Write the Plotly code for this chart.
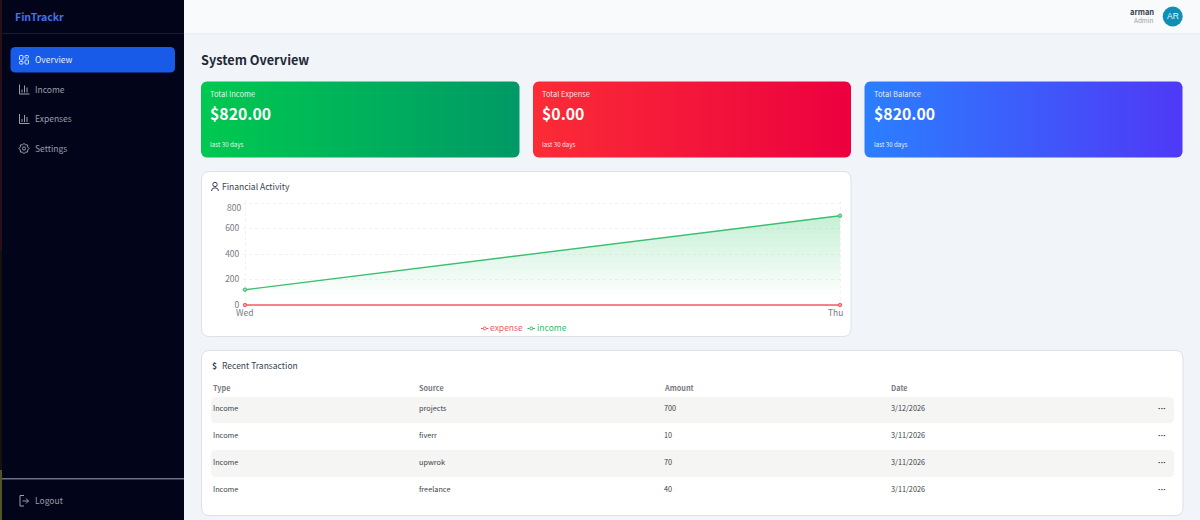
import math
import numpy as np
import plotly.graph_objects as go

W, H = 1200, 520
FONT = "Noto Sans CJK SC"

# chart values
days = ["Wed", "Thu"]
income = [120, 700]
expense = [0, 0]
y_ticks = [0, 200, 400, 600, 800]
y_labels = ["0", "200", "400", "600", ""]

# cards
card_titles = ["Total Income", "Total Expense", "Total Balance"]
card_values = ["$820.00", "$0.00", "$820.00"]

# table
headers = ["Type", "Source", "Amount", "Date"]
tx_type = ["Income", "Income", "Income", "Income"]
tx_source = ["projects", "fiverr", "upwrok", "freelance"]
tx_amount = ["700", "10", "70", "40"]
tx_date = ["3/12/2026", "3/11/2026", "3/11/2026", "3/11/2026"]

# sidebar
nav_items = ["Overview", "Income", "Expenses", "Settings"]

shapes = []
notes = []


def px(x):
    return x / W


def py(y):
    return 1 - y / H


def path_paper(d):
    # d is written in page pixels, numbers alternate x,y
    out = []
    is_x = True
    for tok in d.split():
        try:
            v = float(tok)
        except ValueError:
            out.append(tok)
            is_x = True
            continue
        out.append(f"{px(v):.5f}" if is_x else f"{py(v):.5f}")
        is_x = not is_x
    return " ".join(out)


def rounded(x0, y0, x1, y1, r):
    return (f"M {x0+r} {y0} L {x1-r} {y0} Q {x1} {y0} {x1} {y0+r} L {x1} {y1-r} "
            f"Q {x1} {y1} {x1-r} {y1} L {x0+r} {y1} Q {x0} {y1} {x0} {y1-r} "
            f"L {x0} {y0+r} Q {x0} {y0} {x0+r} {y0} Z")


def add_path(d, fill=None, line=None, width=1):
    shapes.append(dict(type="path", path=path_paper(d), xref="paper", yref="paper", layer="below",
                       fillcolor=fill or "rgba(0,0,0,0)",
                       line=dict(color=line or "rgba(0,0,0,0)", width=width if line else 0)))


def add_rect(x0, y0, x1, y1, fill):
    shapes.append(dict(type="rect", xref="paper", yref="paper", layer="below",
                       x0=px(x0), x1=px(x1), y0=py(y0), y1=py(y1),
                       fillcolor=fill, line=dict(width=0)))


def add_circle(cx, cy, r, fill=None, line=None, width=1):
    shapes.append(dict(type="circle", xref="paper", yref="paper", layer="below",
                       x0=px(cx-r), x1=px(cx+r), y0=py(cy-r), y1=py(cy+r),
                       fillcolor=fill or "rgba(0,0,0,0)",
                       line=dict(color=line or "rgba(0,0,0,0)", width=width if line else 0)))


def text(x, y, s, size, color, anchor="left", bold=False, family=FONT):
    shift = {"left": -1.5, "right": 1.5, "center": 0}[anchor]
    notes.append(dict(x=px(x), y=py(y), xref="paper", yref="paper", text=f"<b>{s}</b>" if bold else s,
                      showarrow=False, xanchor=anchor, yanchor="middle", xshift=shift, yshift=0.7, borderpad=0,
                      font=dict(size=size, color=color, family=family)))


def bars_icon(x, y, color):
    add_path(f"M {x} {y-5} L {x} {y+4.5} L {x+10} {y+4.5}", line=color)
    for dx, top in [(2.5, 0), (5, -4), (7.5, -2)]:
        add_path(f"M {x+dx} {y+3} L {x+dx} {y+top}", line=color)


def gear_icon(cx, cy, color):
    pts = []
    for i in range(16):
        r = 5 if i % 2 == 0 else 4
        a = i * math.pi / 8
        pts.append(f"{cx + r*math.cos(a):.2f} {cy + r*math.sin(a):.2f}")
    add_path("M " + " L ".join(pts) + " Z", line=color)
    add_circle(cx, cy, 1.6, line=color)


def rounded_poly(x0, y0, x1, y1, r):
    # outline of a card for the gradient fill
    t = np.linspace(0, math.pi / 2, 8)
    xs = np.concatenate([x1 - r + r*np.sin(t), x1 - r + r*np.cos(t), x0 + r - r*np.sin(t), x0 + r - r*np.cos(t)])
    ys = np.concatenate([y0 + r - r*np.cos(t), y1 - r + r*np.sin(t), y1 - r + r*np.cos(t), y0 + r - r*np.sin(t)])
    return list(xs) + [xs[0]], list(ys) + [ys[0]]


# page background pieces
add_rect(0, 0, W, H, "#f1f5f9")
add_rect(184, 0, W, 33.5, "#f9fafb")
add_rect(184, 33.5, W, 34.5, "#e8ebf0")
add_rect(0, 0, 184, H, "#02041a")
add_rect(0, 33, 184, 34, "#1b1e30")
add_rect(2, 478, 184, 479.5, "#6d7084")
# sliver of window behind the screenshot, on the left edge
add_rect(0, 0, 2, 250, "#2a0f18")
add_rect(0, 250, 2, 470, "#14130f")
add_rect(0, 470, 2, H, "#4f5524")

# sidebar
text(15, 17, "FinTrackr", 10.5, "#4472e6", bold=True)
add_path(rounded(10.5, 47, 175, 72.5, 5), fill="#175be8")
nav_y = [59.5, 89.5, 119, 148.5]
for name, y in zip(nav_items, nav_y):
    text(35.5, y, name, 8.5, "#e8eefc" if name == "Overview" else "#9a9ea8")
# overview icon
add_path(rounded(19.5, 55.5, 23, 60, 0.8), line="#dfe8fb")
add_path(rounded(25, 55.5, 28.5, 58, 0.8), line="#dfe8fb")
add_path(rounded(25, 60, 28.5, 64, 0.8), line="#dfe8fb")
add_path(rounded(19.5, 61.5, 23, 64, 0.8), line="#dfe8fb")
bars_icon(19.5, 89.5, "#9a9ea8")
bars_icon(19.5, 119, "#9a9ea8")
gear_icon(24, 148.5, "#9a9ea8")
add_path("M 24 495.5 L 20 495.5 L 20 506 L 24 506", line="#9a9ea8")
add_path("M 22.5 501 L 28.5 501 M 26 498.5 L 28.5 501 L 26 503.5", line="#9a9ea8")
text(35.5, 501, "Logout", 8.5, "#9a9ea8")

# top bar
text(1153, 12, "arman", 7.5, "#374151", anchor="right", bold=True)
text(1153, 21.5, "Admin", 6.4, "#9aa1ab", anchor="right")
add_circle(1172.7, 16.5, 10, fill="#0e8fb6")
text(1172.7, 16.5, "AR", 8.5, "#eaf6fa", anchor="center", family="Liberation Sans")

text(201.5, 60, "System Overview", 12.7, "#1f2937", bold=True)

# stat cards
card_x = [(201, 519.5), (533, 851), (864.5, 1182.5)]
card_colors = [("#00c950", "#009966"), ("#fb2c36", "#ec003f"), ("#2b7fff", "#4f39f6")]
fig = go.Figure()
for (x0, x1), (c0, c1), title, value in zip(card_x, card_colors, card_titles, card_values):
    xs, ys = rounded_poly(x0, 81.5, x1, 157.5, 6)
    fig.add_trace(go.Scatter(x=xs, y=ys, xaxis="x2", yaxis="y2", mode="none", fill="toself",
                             fillgradient=dict(type="horizontal", colorscale=[[0, c0], [1, c1]]),
                             hoverinfo="skip", showlegend=False))
    text(x0 + 9.5, 94.5, title, 7.5, "rgba(255,255,255,0.9)")
    text(x0 + 9.5, 114, value, 15.8, "#ffffff", bold=True)
    text(x0 + 9.5, 145, "last 30 days", 6.2, "rgba(255,255,255,0.9)")

# chart card
add_path(rounded(201.5, 171.5, 851, 336.5, 8), fill="#ffffff", line="#dde1e7")
add_circle(215, 184.5, 2.2, line="#374151")
add_path("M 211.5 191 Q 211.5 187.8 215 187.8 Q 218.5 187.8 218.5 191", line="#374151")
text(222, 187, "Financial Activity", 8.5, "#374151")

fig.add_trace(go.Scatter(x=days, y=expense, name="expense", mode="lines+markers", cliponaxis=False,
                         line=dict(color="#ef5b66", width=1.4),
                         marker=dict(size=3.5, color="#f59aa1", line=dict(color="#ef5b66", width=1))))
fig.add_trace(go.Scatter(x=days, y=income, name="income", mode="lines+markers", cliponaxis=False,
                         fill="tozeroy",
                         fillgradient=dict(type="vertical", start=60, stop=700,
                                           colorscale=[[0, "rgba(34,197,94,0)"], [1, "rgba(34,197,94,0.26)"]]),
                         line=dict(color="#3abf70", width=1.4),
                         marker=dict(size=3.5, color="#8fdcaa", line=dict(color="#3abf70", width=1))))

# labels that recharts nudges to stay inside the plot
axis_grey = "#777b82"
notes.append(dict(x=0, y=800, xref="x", yref="y", text="800", showarrow=False, xanchor="right", yanchor="middle",
                  xshift=-2, yshift=-4, font=dict(size=8.5, color=axis_grey, family=FONT)))
for day, anchor, shift in zip(days, ["center", "right"], [-0.5, 5]):
    notes.append(dict(x=day, y=0, xref="x", yref="y", text=day, showarrow=False, xanchor=anchor, yanchor="top",
                      xshift=shift, yshift=1.5, font=dict(size=8.5, color=axis_grey, family=FONT)))

# legend
for x0, name, color in [(481, "expense", "#ef5b66"), (527.5, "income", "#35bd6c")]:
    add_path(f"M {x0} 328.5 L {x0+7.5} 328.5", line=color)
    add_circle(x0 + 3.75, 328.5, 1.5, fill="#ffffff", line=color)
    text(x0 + 9.5, 328, name, 8.5, color)

# table card
add_path(rounded(201.5, 350.5, 1183, 515.5, 8), fill="#ffffff", line="#dde1e7")
text(212, 366, "$", 8.5, "#374151", bold=True)
text(222, 366, "Recent Transaction", 8.5, "#374151")
col_x = [213.5, 419.5, 664, 891.5]
for x, h in zip(col_x, headers):
    text(x, 388.5, h, 7.3, "#777b82", bold=True)
row_y = [409, 436, 463, 490]
add_path(rounded(211, 397, 1174, 423, 5), fill="#f5f5f4")
add_path(rounded(211, 450, 1174, 477, 5), fill="#f5f5f4")
for i, y in enumerate(row_y):
    for x, v in zip(col_x, (tx_type[i], tx_source[i], tx_amount[i], tx_date[i])):
        text(x, y, v, 7.3, "#3a3f47")
    text(1162, y, "···", 8, "#1a1a1a", anchor="center", bold=True, family="Liberation Sans")

# axes run a hair past the data so plotly keeps the end gridlines
x_pad = 2 / 595
y_pad = 12
x_dom = [243 / W, 842 / W]
y_dom = [1 - (305 + y_pad * 0.1275) / H, 1 - (203 - y_pad * 0.1275) / H]
fig.update_layout(
    width=W, height=H, margin=dict(l=0, r=0, t=0, b=0, autoexpand=False), autosize=False,
    paper_bgcolor="#f1f5f9", plot_bgcolor="rgba(0,0,0,0)", showlegend=False,
    font=dict(family=FONT),
    shapes=shapes, annotations=notes,
    xaxis=dict(domain=x_dom, type="category", categoryorder="array", categoryarray=days,
               range=[-x_pad, 1 + x_pad], tickvals=days, showticklabels=False, showgrid=True,
               gridcolor="#f1f2f4", griddash="dot", gridwidth=1, zeroline=False, showline=False, fixedrange=True),
    yaxis=dict(domain=y_dom, range=[-y_pad, 800 + y_pad], tickvals=y_ticks, ticktext=y_labels, showgrid=True,
               gridcolor="#f1f2f4", griddash="dot", gridwidth=1, zeroline=False, showline=False,
               ticks="outside", ticklen=1, tickcolor="rgba(0,0,0,0)",
               tickfont=dict(size=8.5, color=axis_grey, family=FONT), fixedrange=True),
    xaxis2=dict(domain=[0, 1], range=[0, W], visible=False, fixedrange=True, anchor="y2"),
    yaxis2=dict(domain=[0, 1], range=[H, 0], visible=False, fixedrange=True, anchor="x2"),
)

fig.write_html("out.html", config=dict(displayModeBar=False),
               post_script="document.body.style.margin='0';document.body.style.overflow='hidden';")
